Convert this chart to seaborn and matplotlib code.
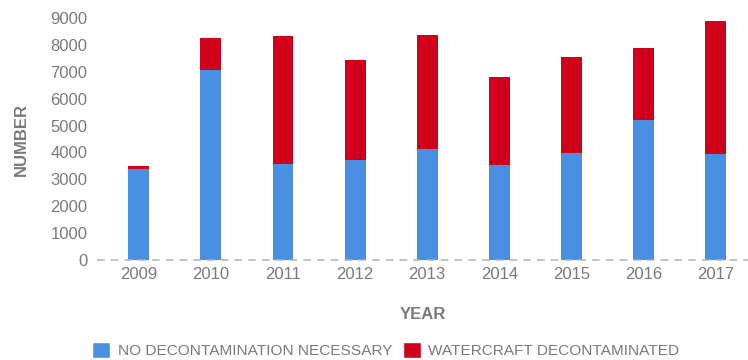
import matplotlib
matplotlib.use("Agg")
import matplotlib.pyplot as plt
from matplotlib.patches import Patch
import seaborn as sns
import pandas as pd

years = ["2009", "2010", "2011", "2012", "2013", "2014", "2015", "2016", "2017"]
no_decon = [3380, 7050, 3570, 3710, 4130, 3520, 3980, 5190, 3940]
decontaminated = [100, 1190, 4745, 3735, 4220, 3285, 3565, 2680, 4930]

BLUE = "#4A90E2"
RED = "#D0021B"
GREY = "#7a7a7a"

sns.set_theme(style="white")
plt.rcParams["font.family"] = ["Liberation Sans", "DejaVu Sans"]

df = pd.DataFrame({
    "year": years,
    "no_decon": no_decon,
    "decon": decontaminated,
})
df["total"] = df["no_decon"] + df["decon"]

fig = plt.figure(figsize=(7.48, 3.6), dpi=100)
ax = fig.add_axes([97 / 748, 1 - 260 / 360, 1 - 97 / 748, (260 - 18) / 360])

# stacked bars: full height in red, lower segment in blue
sns.barplot(data=df, x="year", y="total", color=RED, width=0.29,
            saturation=1, linewidth=0, ax=ax)
sns.barplot(data=df, x="year", y="no_decon", color=BLUE, width=0.29,
            saturation=1, linewidth=0, ax=ax)

ax.set_ylim(0, 9000)
ax.set_xlim(-0.58, 8.45)
ax.set_yticks(range(0, 9001, 1000))
ax.tick_params(axis="both", colors=GREY, labelsize=12, length=0)
ax.tick_params(axis="x", pad=5)
ax.tick_params(axis="y", pad=7)
for s in ax.spines.values():
    s.set_visible(False)
ax.axhline(0, color="#b3b3b3", lw=1.1, ls=(0, (5, 4)), zorder=5, clip_on=False)

ax.set_xlabel("YEAR", color=GREY, fontsize=12, fontweight="bold", labelpad=18)
ax.set_ylabel("NUMBER", color=GREY, fontsize=12, fontweight="bold", labelpad=15)

handles = [Patch(facecolor=BLUE, label="NO DECONTAMINATION NECESSARY"),
           Patch(facecolor=RED, label="WATERCRAFT DECONTAMINATED")]
leg = fig.legend(handles=handles, loc="center", bbox_to_anchor=(0.516, 0.027),
                 ncol=2, frameon=False, fontsize=11.1, handlelength=1.15,
                 handleheight=1.25, handletextpad=0.5, columnspacing=0.7,
                 borderaxespad=0)
for t in leg.get_texts():
    t.set_color(GREY)

fig.savefig("out.png", dpi=100)
